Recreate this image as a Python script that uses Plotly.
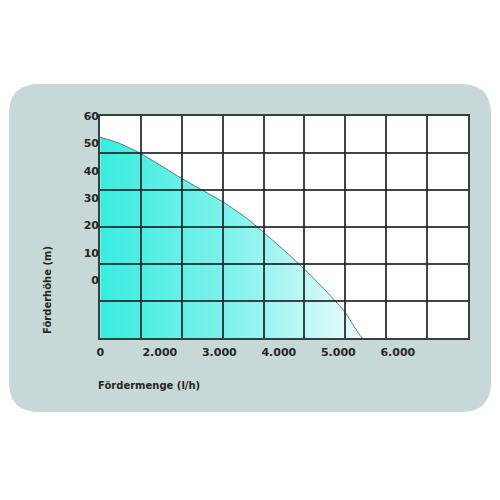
import plotly.graph_objects as go

# pump curve (in units of the printed labels)
flow_lh = [1000, 1300, 1670, 2030, 2370, 3060, 3460, 3730, 4020, 4420, 4750, 5110, 5340, 5400]
head_m = [52.2, 50.2, 46.4, 41.7, 37.1, 28.6, 22.6, 17.7, 12.2, 4.2, -3.0, -11.7, -19.5, -21.2]

x_tick_vals = [1000, 2000, 3000, 4000, 5000, 6000]
x_tick_text = ["0", "2.000", "3.000", "4.000", "5.000", "6.000"]
y_tick_vals = [0, 10, 20, 30, 40, 50, 60]
y_tick_text = ["0", "10", "20", "30", "40", "50", "60"]

grid_cols = 9
grid_rows = 6

x_range = [995, 7180]
y_range = [-21.2, 60]

# the page puts the figure 8px in from the corner, so work in page pixels
OFF = 8
W, H = 484, 484
L, R, T, B = 100, 468, 116, 338
pw, ph = R - L, B - T


def px_x(p):
    return (p - L) / pw


def px_y(p):
    return (B - p) / ph


def panel_path(x0, x1, y0, y1, r):
    rx, ry = r / pw, r / ph
    a, b = px_x(x0), px_x(x1)
    top, bot = px_y(y0), px_y(y1)
    return (f"M {a+rx},{top} L {b-rx},{top} Q {b},{top} {b},{top-ry} "
            f"L {b},{bot+ry} Q {b},{bot} {b-rx},{bot} L {a+rx},{bot} "
            f"Q {a},{bot} {a},{bot+ry} L {a},{top-ry} Q {a},{top} {a+rx},{top} Z")


fig = go.Figure()

# baseline for the fill, at the floor of the axis
fig.add_trace(go.Scatter(x=[flow_lh[0], flow_lh[-1]], y=[y_range[0], y_range[0]],
                         mode="lines", line=dict(width=0), hoverinfo="skip", showlegend=False))
fig.add_trace(go.Scatter(x=flow_lh, y=head_m, mode="lines", fill="tonexty",
                         line=dict(color="rgba(70,115,115,0.9)", width=1, shape="spline", smoothing=0.6),
                         fillgradient=dict(type="horizontal",
                                           colorscale=[[0, "rgb(58,236,224)"], [0.5, "rgb(128,242,236)"],
                                                       [1, "rgb(238,252,252)"]]),
                         showlegend=False))
# empty trace so the grid subplot is drawn on top
fig.add_trace(go.Scatter(x=[], y=[], xaxis="x2", yaxis="y2", showlegend=False))

tick_font = dict(family="DejaVu Sans", size=11, color="#262626", weight="bold")
grid_col = "rgba(30,36,36,0.85)"

fig.update_layout(
    width=W, height=H,
    margin=dict(l=L - OFF, r=W + OFF - R, t=T - OFF, b=H + OFF - B),
    paper_bgcolor="white",
    plot_bgcolor="rgba(0,0,0,0)",
    xaxis=dict(range=x_range, tickvals=x_tick_vals, ticktext=x_tick_text, tickfont=tick_font,
               showgrid=False, zeroline=False, showline=False, ticks="", ticklabelstandoff=6),
    yaxis=dict(range=y_range, tickvals=y_tick_vals, ticktext=y_tick_text, tickfont=tick_font,
               showgrid=False, zeroline=False, showline=False, ticks="", ticklabelstandoff=0),
    xaxis2=dict(range=[0, grid_cols], dtick=1, anchor="y2", showgrid=True, gridcolor=grid_col,
                gridwidth=1.5, showline=True, mirror=True, linecolor=grid_col, linewidth=1.5,
                showticklabels=False, ticks="", zeroline=False),
    yaxis2=dict(range=[0, grid_rows], dtick=1, anchor="x2", showgrid=True, gridcolor=grid_col,
                gridwidth=1.5, showline=True, mirror=True, linecolor=grid_col, linewidth=1.5,
                showticklabels=False, ticks="", zeroline=False),
    shapes=[
        dict(type="path", xref="paper", yref="paper", path=panel_path(9, 491, 84, 412, 30),
             fillcolor="#c6d9d7", line=dict(width=0), layer="below"),
        dict(type="rect", xref="paper", yref="paper", x0=0, x1=1, y0=0, y1=1,
             fillcolor="white", line=dict(width=0), layer="below"),
    ],
    annotations=[
        dict(text="Fördermenge (l/h)", xref="paper", yref="paper", x=px_x(96), y=px_y(385),
             xanchor="left", yanchor="middle", showarrow=False,
             font=dict(family="DejaVu Sans", size=10, color="#262626", weight="bold")),
        dict(text="Förderhöhe (m)", xref="paper", yref="paper", x=px_x(47), y=px_y(290),
             xanchor="center", yanchor="middle", textangle=-90, showarrow=False,
             font=dict(family="DejaVu Sans", size=10, color="#262626", weight="bold")),
    ],
)

fig.write_html("out.html")
